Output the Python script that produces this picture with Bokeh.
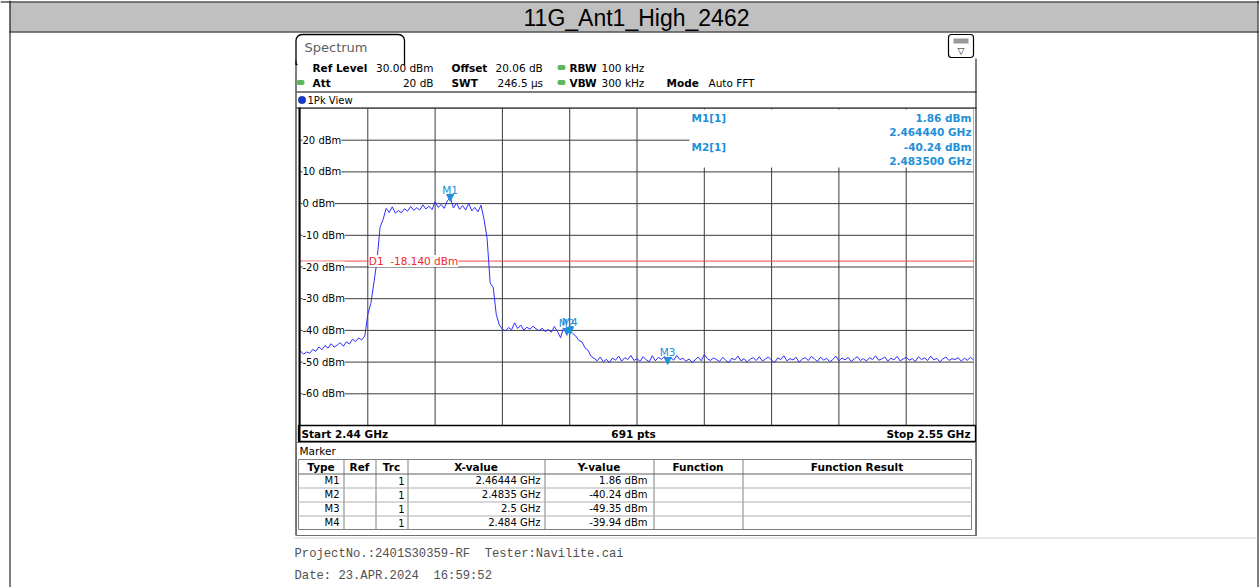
import numpy as np
from bokeh.plotting import figure
from bokeh.models import BoxAnnotation, Label, Range1d
from bokeh.embed import file_html
from bokeh.resources import INLINE
from bokeh.core.properties import value

# ---------------- data ----------------
TITLE = "11G_Ant1_High_2462"
START_MHZ = 2440.0
STOP_MHZ = 2550.0
REF_LEVEL = 30.0
BOTTOM_LEVEL = -70.0
SWEEP_PTS = "691 pts"

# trace levels (dBm), read every 0.5 MHz from 2440 to 2550 MHz
LEVELS = [
    -46.5, -47.5, -46.8, -47.2, -46.0, -46.6, -45.2, -46.1, -44.8, -45.6, -44.2,
    -45.3, -44.6, -43.9, -45.0, -43.6, -44.3, -42.8, -43.5, -42.4, -43.0, -41.8,
    -35.0, -31.5, -25.0, -18.0, -7.5, -5.0, -1.5,
    -2.8, -1.0, -3.0, -2.2, -2.9, -1.6, -2.4, -0.9, -2.1, -1.3, -2.0, -0.4, -1.7,
    -0.8, -1.9, 0.6, -1.2, -0.3, -1.5, 0.9, 1.86, -1.4, 0.2, -1.8, -0.6, -2.0, 0.1,
    -2.3, -1.2, -2.6, -0.5,
    -5.0, -11.0, -25.0, -26.5, -35.0, -38.3, -39.6,
    -40.2, -39.1, -39.8, -37.6, -39.4, -38.3, -39.9, -39.0, -39.6, -38.7, -39.5,
    -40.1, -39.3, -40.4, -39.7, -40.6, -38.8, -40.3, -42.3, -39.2, -40.24,
    -39.94,
    -41.0, -41.8, -43.2, -43.6, -45.5, -46.3, -48.2,
    -48.8, -49.6, -48.4, -49.9, -49.1, -50.2, -48.7, -49.4, -48.1, -49.7,
    -48.6, -49.2, -47.9, -49.5, -48.9, -49.8, -48.3, -49.3, -49.9, -48.0,
    -49.6, -48.5, -49.1, -48.2, -49.35, -48.6, -49.4, -47.9, -49.2, -48.8,
    -49.7, -49.0, -50.1, -49.3, -48.4, -49.6, -47.6, -48.9, -49.5, -48.7,
    -49.2, -49.8, -48.5, -49.4, -50.2, -48.8, -49.3, -48.1, -49.6, -48.9,
    -50.0, -49.1, -48.6, -49.5, -48.3, -49.7, -49.0, -48.4, -49.4, -50.1,
    -48.7, -49.2, -48.0, -49.6, -48.9, -49.3, -48.5, -50.0, -49.1, -48.6,
    -49.5, -48.2, -49.0, -49.8, -48.4, -49.4, -48.8, -49.9, -49.2, -48.1,
    -49.6, -48.7, -49.3, -48.5, -49.8, -49.0, -48.3, -49.5, -48.9, -49.7,
    -48.6, -49.2, -48.0, -49.4, -49.0, -48.4, -49.7, -48.8, -49.3, -48.2,
    -49.6, -49.0, -48.5, -49.4, -48.9, -49.8, -48.3, -49.2, -48.7, -49.5,
    -48.1, -49.3, -48.8, -49.9, -49.0, -48.4, -49.5, -48.9, -49.2, -48.6,
    -49.7, -48.8, -49.4, -48.5, -49.3,
]

X_GRID = [2451, 2462, 2473, 2484, 2495, 2506, 2517, 2528, 2539]
Y_TICKS = [20, 10, 0, -10, -20, -30, -40, -50, -60]

MARKER_NAMES = ["M1", "M2", "M3", "M4"]
MARKER_FREQ = [2464.44, 2483.5, 2500.0, 2484.0]     # MHz
MARKER_LEVEL = [1.86, -40.24, -49.35, -39.94]       # dBm
MARKER_TRC = [1, 1, 1, 1]

D1_LEVEL = -18.14

INFO_ROW1 = [("Ref Level", True, 312, "l"), ("30.00 dBm", False, 433, "r"), ("Offset", True, 451, "l"),
             ("20.06 dB", False, 495, "l"), ("RBW", True, 569, "l"), ("100 kHz", False, 601, "l")]
INFO_ROW2 = [("Att", True, 312, "l"), ("20 dB", False, 433, "r"), ("SWT", True, 451, "l"),
             ("246.5 \u00b5s", False, 497, "l"), ("VBW", True, 569, "l"), ("300 kHz", False, 601, "l"),
             ("Mode", True, 666, "l"), ("Auto FFT", False, 708, "l")]

FOOTER1 = "ProjectNo.:2401S30359-RF \u00a0Tester:Navilite.cai"
FOOTER2 = "Date: 23.APR.2024 \u00a016:59:52"

# ---------------- layout ----------------
W, H = 1259, 587
PLOT_L, PLOT_R, PLOT_T, PLOT_B = 300, 973, 108, 425   # diagram area in page pixels

FONT = "DejaVu Sans"
BLUE_TXT = "#1e8fd8"
TRACE = "#2e2eff"
GRID = "#3c3c3c"

mhz_px = (STOP_MHZ - START_MHZ) / (PLOT_R - PLOT_L)
db_px = (REF_LEVEL - BOTTOM_LEVEL) / (PLOT_B - PLOT_T)
x_range = Range1d(START_MHZ - PLOT_L * mhz_px, STOP_MHZ + (W - PLOT_R) * mhz_px)
y_range = Range1d(BOTTOM_LEVEL - (H - PLOT_B) * db_px, REF_LEVEL + PLOT_T * db_px)

freq = np.linspace(START_MHZ, STOP_MHZ, len(LEVELS))

p = figure(width=W, height=H, x_range=x_range, y_range=y_range,
           output_backend="svg", toolbar_location=None,
           x_axis_location=None, y_axis_location=None, min_border=0)
p.grid.visible = False
p.outline_line_color = None
p.background_fill_color = "white"
p.border_fill_color = "white"


def rect(l, t, r, b, fill=None, line=None, lw=1.0, radius=0):
    kw = dict(left=l, right=r, top=t, bottom=b,
              left_units="canvas", right_units="canvas", top_units="canvas", bottom_units="canvas",
              fill_color=fill if fill else "white", fill_alpha=1.0 if fill else 0.0,
              line_color=line if line else "black", line_alpha=1.0 if line else 0.0,
              line_width=lw)
    if radius:
        kw["border_radius"] = radius
    p.add_layout(BoxAnnotation(**kw))


def hline(x0, x1, y, color="black", w=1):
    rect(x0, y, x1, y + w, fill=color)


def vline(x, y0, y1, color="black", w=1):
    rect(x, y0, x + w, y1, fill=color)


def txt(x, y, s, size=10.5, color="black", bold=False, align="left", font=FONT):
    p.add_layout(Label(x=x, y=y, x_units="canvas", y_units="canvas", text=s, text_font=font,
                       text_font_size=f"{size}px", text_color=color,
                       text_font_style="bold" if bold else "normal", text_align=align,
                       text_baseline="middle"))


# --- diagram grid (from tick lists) ---
p.segment(x0=X_GRID, y0=[BOTTOM_LEVEL] * len(X_GRID), x1=X_GRID, y1=[REF_LEVEL] * len(X_GRID),
          line_color=GRID, line_width=1)
p.segment(x0=[START_MHZ] * len(Y_TICKS), y0=Y_TICKS, x1=[STOP_MHZ] * len(Y_TICKS), y1=Y_TICKS,
          line_color=GRID, line_width=1)

# --- display line D1 ---
p.segment(x0=[START_MHZ], y0=[D1_LEVEL], x1=[STOP_MHZ], y1=[D1_LEVEL], line_color="#f04848", line_width=1)

# --- trace ---
p.line(freq, LEVELS, line_color=TRACE, line_width=1)

# --- markers ---
p.text(x=MARKER_FREQ, y=MARKER_LEVEL, text=["\u25bc"] * len(MARKER_FREQ), text_align="center",
       text_baseline="alphabetic", text_color=BLUE_TXT, text_font=value(FONT), text_font_size="11px")
p.text(x=MARKER_FREQ, y=MARKER_LEVEL, text=MARKER_NAMES, text_align="center", text_baseline="alphabetic",
       y_offset=-8, text_color=BLUE_TXT, text_font=value(FONT), text_font_size="10.5px")

# --- D1 label ---
p.add_layout(Label(x=X_GRID[0], y=D1_LEVEL, x_offset=1, text=f"D1 \u00a0{D1_LEVEL:.3f} dBm",
                   text_font=FONT, text_font_size="10.5px", text_color="#f02828",
                   text_baseline="middle", background_fill_color="white"))

# --- y tick labels inside the diagram ---
for v in Y_TICKS:
    p.add_layout(Label(x=START_MHZ, y=v, x_offset=2, text=f"{v} dBm", text_font=FONT,
                       text_font_size="10px", text_color="black", text_baseline="middle",
                       background_fill_color="white"))

# --- marker info box (top right of diagram) ---
rect(689, 109, 973, 167, fill="white")
for k in range(2):
    y0 = 117 + 29 * k
    txt(691, y0, f"{MARKER_NAMES[k]}[1]", color=BLUE_TXT, bold=True)
    txt(971, y0, f"{MARKER_LEVEL[k]:.2f} dBm", color=BLUE_TXT, bold=True, align="right")
    txt(971, y0 + 14, f"{MARKER_FREQ[k] / 1000:.6f} GHz", color=BLUE_TXT, bold=True, align="right")

# --- diagram frame ---
p.add_layout(BoxAnnotation(left=START_MHZ, right=STOP_MHZ, bottom=BOTTOM_LEVEL, top=REF_LEVEL,
                           fill_alpha=0, line_color="black", line_width=1))
vline(298, 107, 441, "black", 2)

# --- page header ---
rect(9, 2, 1257, 31, fill="#c0c0c0")
hline(0, W, 1, "black", 1)
hline(9, 1258, 31, "black", 1)
vline(9, 0, H, "black", 1)
vline(1257, 0, H, "black", 1)
txt(636, 17, TITLE, size=23, font="Liberation Sans", align="center")

# --- instrument panel ---
rect(295.5, 34, 404, 64, fill="white", line="black", lw=1.3, radius=(6, 6, 0, 0))
hline(297, 403, 60, "white", 6)
txt(304, 47, "Spectrum", size=13, color="#606060")
rect(948, 34, 973, 57, fill="white", line="black", lw=1.2, radius=3)
rect(953, 38, 968, 43, fill="#9a9a9a")
txt(960.5, 50, "\u25bd", size=9, align="center")
vline(295, 60, 535, "black", 1)
vline(975, 58, 535, "black", 1)

for row, yy in ((INFO_ROW1, 67), (INFO_ROW2, 82)):
    for s, b, x, a in row:
        txt(x, yy, s, bold=b, align="right" if a == "r" else "left")
for (gx, gy) in [(557, 67), (296, 82), (557, 82)]:
    rect(gx, gy - 2.5, gx + 8, gy + 2.5, fill="#5cb85c", radius=2)

# 1Pk View strip
hline(296, 976, 91, "black", 1)
rect(298, 96, 305, 103, fill="#1438e0", line="#103070", lw=0.8, radius=3)
txt(307, 99.5, "1Pk View", size=10)
hline(296, 976, 107, "black", 1)

# status bar below diagram
rect(298, 425, 975, 441, fill=None, line="black", lw=1.3)
txt(301, 433, f"Start {START_MHZ / 1000:g} GHz", bold=True)
txt(633, 433, SWEEP_PTS, bold=True, align="center")
txt(970, 433, f"Stop {STOP_MHZ / 1000:g} GHz", bold=True, align="right")

# marker table
rect(296, 442, 976, 535, fill=None, line="#707070", lw=1)
txt(299, 450, "Marker", size=10.5)
COLS = [298, 343, 375, 407, 544, 653, 742, 971]
HEAD = ["Type", "Ref", "Trc", "X-value", "Y-value", "Function", "Function Result"]
T_TOP, H_BOT, ROW_H = 459, 473, 14
n_rows = len(MARKER_NAMES)
T_BOT = H_BOT + ROW_H * n_rows
rect(COLS[0], T_TOP, COLS[-1], T_BOT, fill=None, line="#808080", lw=1)
for cxv in COLS[1:-1]:
    vline(cxv, T_TOP, T_BOT, "#808080", 1)
hline(COLS[0], COLS[-1], H_BOT, "#606060", 1)
for r in range(1, n_rows):
    hline(COLS[0], COLS[-1], H_BOT + ROW_H * r, "#b0b0b0", 1)
for k, h in enumerate(HEAD):
    txt((COLS[k] + COLS[k + 1]) / 2, 466, h, bold=True, align="center", size=10.5)
for r in range(n_rows):
    yy = H_BOT + ROW_H * r + ROW_H / 2
    txt(COLS[1] - 4, yy, MARKER_NAMES[r], size=10, align="right")
    txt(COLS[3] - 3, yy, str(MARKER_TRC[r]), size=10, align="right")
    txt(COLS[4] - 4, yy, f"{MARKER_FREQ[r] / 1000:g} GHz", size=10, align="right")
    txt(COLS[5] - 6, yy, f"{MARKER_LEVEL[r]:.2f} dBm", size=10, align="right")

hline(294, 1257, 537, "#d0d0d0", 1)

# footer
txt(294, 553, FOOTER1, size=12.2, color="#505050", font="Liberation Mono")
txt(294, 575, FOOTER2, size=12.2, color="#505050", font="Liberation Mono")

open("out.html", "w").write(file_html(p, INLINE))
